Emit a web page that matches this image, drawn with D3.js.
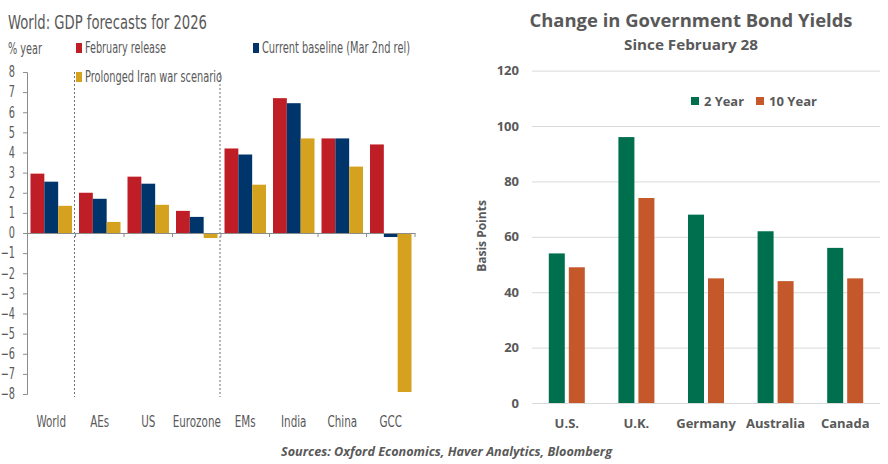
<!DOCTYPE html>
<html>
<head>
<meta charset="utf-8">
<script src="https://cdn.jsdelivr.net/npm/d3@7"></script>
<style>
  body { margin: 0; background: #fff; }
  svg { display: block; }
</style>
</head>
<body>
<div id="chart"></div>
<script>
// left chart data
let gdpCats = ['World', 'AEs', 'US', 'Eurozone', 'EMs', 'India', 'China', 'GCC']
let gdpSeries = ['February release', 'Current baseline (Mar 2nd rel)', 'Prolonged Iran war scenario']
let febRelease = [2.95, 2.0, 2.8, 1.1, 4.2, 6.7, 4.7, 4.4]
let currentBase = [2.55, 1.7, 2.45, 0.8, 3.9, 6.45, 4.7, -0.2]
let iranWar = [1.35, 0.55, 1.4, -0.25, 2.4, 4.7, 3.3, -7.9]
let gdpTicks = d3.range(-8, 9)

// right chart data
let bondCats = ['U.S.', 'U.K.', 'Germany', 'Australia', 'Canada']
let bondSeries = ['2 Year', '10 Year']
let twoYear = [54, 96, 68, 62, 56]
let tenYear = [49, 74, 45, 44, 45]
let bondTicks = [0, 20, 40, 60, 80, 100, 120]

let W = 888, H = 464
let grey = '#595959'
let narrow = '"Liberation Sans Narrow", "DejaVu Sans Condensed", "Open Sans", sans-serif'
let bold = '"Open Sans", "Noto Sans", sans-serif'

// squeeze text horizontally, the left chart font is very condensed
function squeeze(sel, k) {
  sel.each(function () {
    let len = this.getComputedTextLength()
    d3.select(this).attr('textLength', len * k).attr('lengthAdjust', 'spacingAndGlyphs')
  })
}

let svg = d3.select('#chart').append('svg').attr('width', W).attr('height', H)

// ---------- left: GDP forecasts ----------
let gdpColors = d3.scaleOrdinal().domain(gdpSeries).range(['#C01E27', '#00356B', '#D4A21F'])
let xL = d3.scaleBand().domain(gdpCats).range([27, 415])
let xL1 = d3.scaleBand().domain(gdpSeries).range([3.5, 45])
let yL = d3.scaleLinear().domain([-8, 8]).range([394, 72])
let gdpRows = gdpCats.map((c, i) => ({cat: c, vals: [febRelease[i], currentBase[i], iranWar[i]]}))

let left = svg.append('g')

left.append('text').attr('x', 8).attr('y', 29).text('World: GDP forecasts for 2026')
  .attr('font-family', narrow).attr('font-size', 20).attr('fill', grey)
  .attr('textLength', 199).attr('lengthAdjust', 'spacingAndGlyphs')
left.append('text').attr('x', 8).attr('y', 54).text('% year')
  .attr('font-family', narrow).attr('font-size', 16).attr('fill', grey)
  .attr('textLength', 34).attr('lengthAdjust', 'spacingAndGlyphs')

// dotted separators
left.selectAll('line.sep')
  .data(['AEs', 'EMs'])
  .enter()
  .append('line')
  .attr('class', 'sep')
  .attr('x1', d => xL(d) - 1).attr('x2', d => xL(d) - 1)
  .attr('y1', 72).attr('y2', 397)
  .attr('stroke', '#6f6f6f').attr('stroke-dasharray', '2,2')

let groups = left.selectAll('g.grp')
  .data(gdpRows)
  .enter()
  .append('g')
  .attr('class', 'grp')
  .attr('transform', d => 'translate(' + xL(d.cat) + ',0)')
groups.selectAll('rect')
  .data(d => d.vals.map((v, j) => ({s: gdpSeries[j], v: v})))
  .enter()
  .append('rect')
  .attr('x', d => xL1(d.s))
  .attr('width', xL1.bandwidth())
  .attr('y', d => yL(Math.max(0, d.v)))
  .attr('height', d => Math.abs(yL(d.v) - yL(0)))
  .attr('fill', d => gdpColors(d.s))

// y axis
let yAxisL = left.append('g').attr('transform', 'translate(27,0)')
  .call(d3.axisLeft(yL).tickValues(gdpTicks).tickSize(4).tickSizeOuter(4).tickPadding(8))
yAxisL.selectAll('path,line').attr('stroke', '#8c8c8c')
yAxisL.selectAll('text').attr('font-family', narrow).attr('font-size', 15).attr('fill', grey)
  .call(squeeze, 0.72)

// x axis at zero
let xAxisL = left.append('g').attr('transform', 'translate(0,' + yL(0) + ')')
  .call(d3.axisBottom(xL).tickSize(0).tickFormat(''))
xAxisL.select('path').attr('stroke', '#8c8c8c')
xAxisL.selectAll('line.bt')
  .data(gdpCats.slice(1).concat(['end']))
  .enter()
  .append('line')
  .attr('class', 'bt')
  .attr('x1', (d, i) => xL.range()[0] + xL.step() * (i + 1))
  .attr('x2', (d, i) => xL.range()[0] + xL.step() * (i + 1))
  .attr('y1', 0).attr('y2', 4)
  .attr('stroke', '#8c8c8c')

left.selectAll('text.cat')
  .data(gdpCats)
  .enter()
  .append('text')
  .attr('class', 'cat')
  .attr('x', d => xL(d) + xL.bandwidth() / 2)
  .attr('y', 427)
  .attr('text-anchor', 'middle')
  .attr('font-family', narrow).attr('font-size', 16).attr('fill', grey)
  .text(d => d)
  .call(squeeze, 0.72)

// legend
let legL = [
  {s: gdpSeries[0], x: 76, y: 43, w: 81},
  {s: gdpSeries[1], x: 253, y: 43, w: 148},
  {s: gdpSeries[2], x: 76, y: 72, w: 137}
]
left.selectAll('rect.leg')
  .data(legL)
  .enter()
  .append('rect')
  .attr('class', 'leg')
  .attr('x', d => d.x).attr('y', d => d.y)
  .attr('width', 6).attr('height', 10)
  .attr('fill', d => gdpColors(d.s))
left.selectAll('text.leg')
  .data(legL)
  .enter()
  .append('text')
  .attr('class', 'leg')
  .attr('x', d => d.x + 9).attr('y', d => d.y + 10)
  .attr('font-family', narrow).attr('font-size', 16).attr('fill', grey)
  .attr('textLength', d => d.w).attr('lengthAdjust', 'spacingAndGlyphs')
  .text(d => d.s)

// ---------- right: bond yields ----------
let bondColors = d3.scaleOrdinal().domain(bondSeries).range(['#006F4E', '#C5582A'])
let xR = d3.scaleBand().domain(bondCats).range([532, 880])
let xR1 = d3.scaleBand().domain(bondSeries).range([-18, 18]).paddingInner(0.2)
let yR = d3.scaleLinear().domain([0, 120]).range([403, 70.6])
let bondRows = bondCats.map((c, i) => ({cat: c, vals: [twoYear[i], tenYear[i]]}))

let right = svg.append('g')

right.append('text').attr('x', 691).attr('y', 27).attr('text-anchor', 'middle')
  .text('Change in Government Bond Yields')
  .attr('font-family', bold).attr('font-weight', 700).attr('font-size', 18).attr('fill', grey)
  .attr('textLength', 323).attr('lengthAdjust', 'spacingAndGlyphs')
right.append('text').attr('x', 691).attr('y', 50).attr('text-anchor', 'middle')
  .text('Since February 28')
  .attr('font-family', bold).attr('font-weight', 700).attr('font-size', 14).attr('fill', grey)
  .attr('textLength', 134).attr('lengthAdjust', 'spacingAndGlyphs')

let yAxisR = right.append('g').attr('transform', 'translate(532,0)')
  .call(d3.axisLeft(yR).tickValues(bondTicks).tickSize(-348).tickPadding(13))
yAxisR.select('.domain').remove()
yAxisR.selectAll('line').attr('stroke', '#d9d9d9')
yAxisR.selectAll('text').attr('font-family', bold).attr('font-weight', 700)
  .attr('font-size', 13).attr('fill', grey)

let bgroups = right.selectAll('g.bgrp')
  .data(bondRows)
  .enter()
  .append('g')
  .attr('class', 'bgrp')
  .attr('transform', d => 'translate(' + (xR(d.cat) + xR.bandwidth() / 2) + ',0)')
bgroups.selectAll('rect')
  .data(d => d.vals.map((v, j) => ({s: bondSeries[j], v: v})))
  .enter()
  .append('rect')
  .attr('x', d => xR1(d.s))
  .attr('width', xR1.bandwidth())
  .attr('y', d => yR(d.v))
  .attr('height', d => yR(0) - yR(d.v))
  .attr('fill', d => bondColors(d.s))

right.selectAll('text.bcat')
  .data(bondCats)
  .enter()
  .append('text')
  .attr('class', 'bcat')
  .attr('x', d => xR(d) + xR.bandwidth() / 2)
  .attr('y', 428)
  .attr('text-anchor', 'middle')
  .attr('font-family', bold).attr('font-weight', 700).attr('font-size', 13).attr('fill', grey)
  .text(d => d)

right.append('text')
  .attr('transform', 'translate(486,236) rotate(-90)')
  .attr('text-anchor', 'middle')
  .attr('font-family', bold).attr('font-weight', 700).attr('font-size', 12).attr('fill', grey)
  .text('Basis Points')

let legR = [{s: bondSeries[0], x: 691, w: 40}, {s: bondSeries[1], x: 756, w: 48}]
right.selectAll('rect.legr')
  .data(legR)
  .enter()
  .append('rect')
  .attr('class', 'legr')
  .attr('x', d => d.x).attr('y', 97)
  .attr('width', 8).attr('height', 8)
  .attr('fill', d => bondColors(d.s))
right.selectAll('text.legr')
  .data(legR)
  .enter()
  .append('text')
  .attr('class', 'legr')
  .attr('x', d => d.x + 13).attr('y', 106)
  .attr('font-family', bold).attr('font-weight', 700).attr('font-size', 13).attr('fill', grey)
  .attr('textLength', d => d.w).attr('lengthAdjust', 'spacingAndGlyphs')
  .text(d => d.s)

// source
svg.append('text').attr('x', 281).attr('y', 456)
  .text('Sources: Oxford Economics, Haver Analytics, Bloomberg')
  .attr('font-family', bold).attr('font-weight', 700).attr('font-style', 'italic')
  .attr('font-size', 13).attr('fill', grey)
  .attr('textLength', 331).attr('lengthAdjust', 'spacingAndGlyphs')
</script>
</body>
</html>
